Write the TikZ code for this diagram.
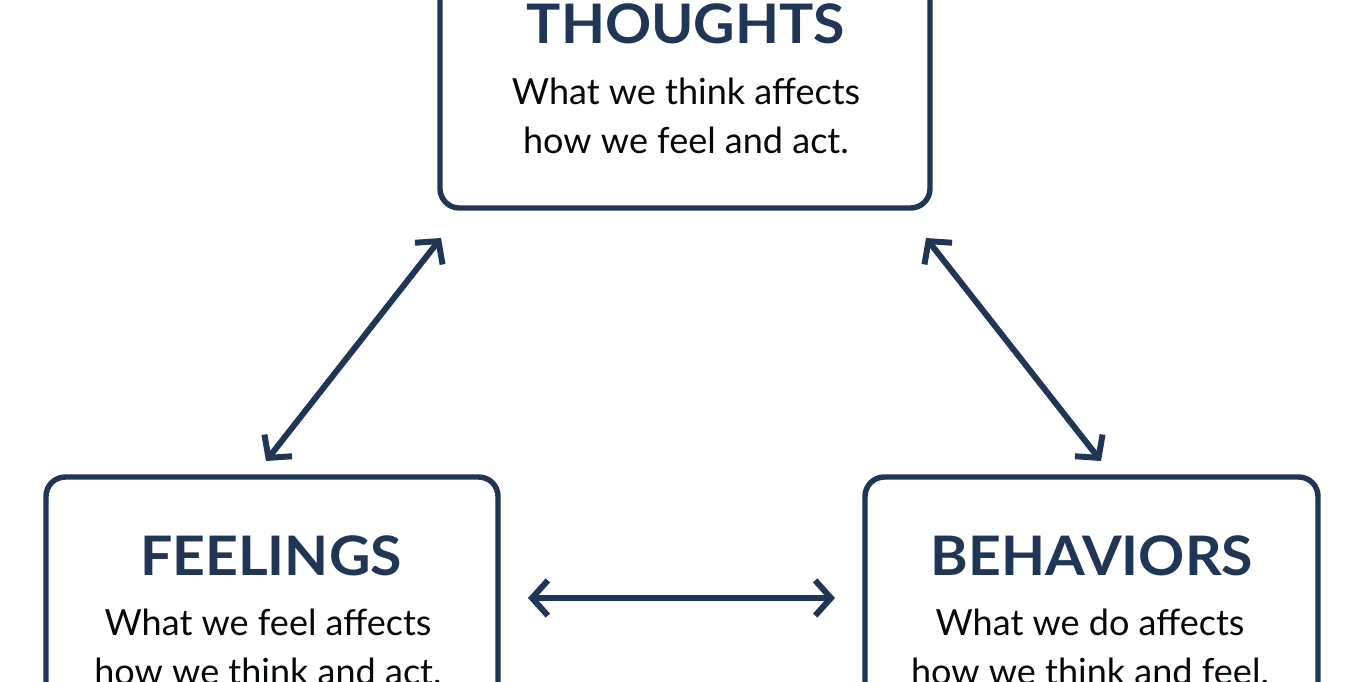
\documentclass[tikz,border=0pt]{standalone}
\usepackage{fontspec}
\setmainfont{Lato}
\usetikzlibrary{arrows.meta}
\definecolor{navy}{HTML}{1F3656}
\begin{document}
\begin{tikzpicture}[x=0.02cm,y=-0.02cm,
  box/.style={draw=navy,line width=3.1pt,rounded corners=11pt},
  ttl/.style={text=navy,font=\bfseries\fontsize{31}{34}\selectfont},
  body/.style={text=black!85!navy,font=\fontsize{20.5}{27.5}\selectfont,align=center},
  link/.style={draw=navy,line width=3.4pt,{Straight Barb[length=9pt,width=20pt,line width=3.4pt]}-{Straight Barb[length=9pt,width=20pt,line width=3.4pt]}}]
\useasboundingbox[fill=white] (0,0) rectangle (1362,681);
\begin{scope}
\clip (0,0) rectangle (1362,681);
\draw[box] (440,-60) rectangle (930,208);
\draw[box] (46,477) rectangle (498,760);
\draw[box] (865,477) rectangle (1318,760);
\end{scope}
\node[xscale=1.05,ttl] (t) at (686,24) {THOUGHTS};
\node[body] (tb) at (686,116) {What we think affects\\how we feel and act.};
\node[xscale=1.05,ttl] (f) at (271,556) {FEELINGS};
\node[body] (fb) at (268,647) {What we feel affects\\how we think and act.};
\node[xscale=1.05,ttl] (b) at (1092,556) {BEHAVIORS};
\node[body] (bb) at (1090,647) {What we do affects\\how we think and feel.};
\coordinate (a1) at (441,238); \coordinate (a2) at (266,461);
\coordinate (b1) at (926,238); \coordinate (b2) at (1101,461);
\coordinate (c1) at (528,598); \coordinate (c2) at (835,598);
\draw[link] (a1) -- (a2);
\draw[link] (b1) -- (b2);
\draw[link] (c1) -- (c2);
\end{tikzpicture}
\end{document}
